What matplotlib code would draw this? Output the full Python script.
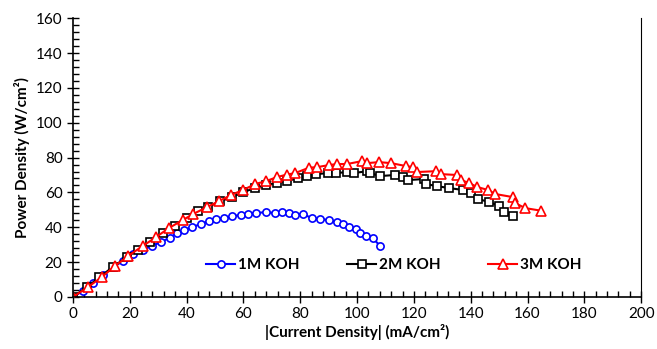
import numpy as np
import matplotlib.pyplot as plt
from matplotlib.ticker import MultipleLocator

plt.rcParams['font.family'] = ['Lato', 'DejaVu Sans']

# 1M KOH
x_1m = [0, 3.5, 7, 10.5, 14, 17.5, 21, 24.5, 28, 31, 34, 36.5, 39, 42, 45, 48, 50.5, 53,
        56, 59, 61.5, 64.5, 68, 71, 73.5, 76, 78, 81, 84, 87, 90, 93, 95, 97, 99.5, 101,
        103, 105.5, 108]
y_1m = [0, 3.5, 8, 12.5, 17, 20.5, 24.5, 27, 29.5, 31.5, 34, 36.5, 38.5, 40, 42, 43.5, 44.7,
        45.3, 46.4, 47, 47.6, 48.2, 48.7, 48.2, 48.7, 48.2, 47, 47.6, 45.3, 44.7, 44.2, 43,
        41.9, 40.1, 39, 36.7, 35, 33.8, 29.5]

# 2M KOH
x_2m = [0, 4.9, 9.3, 14, 19, 23, 27, 31.7, 36, 40, 44, 47.5, 51.8, 56, 60, 64, 68, 71.8,
        75.4, 79.2, 82.5, 85.6, 89.8, 92.6, 96.5, 98.9, 103.5, 104.6, 108.1, 113.4, 116.2,
        118, 123.6, 124.3, 128.2, 132.4, 137.3, 140.1, 142.6, 146.5, 150, 151.8, 155]
y_2m = [0, 5.7, 11.2, 17.2, 22.9, 27.2, 31.5, 36.7, 41, 45.3, 49.5, 51.6, 55, 57.3, 60.2,
        62.5, 64.2, 65.6, 66.3, 68.5, 69.4, 70.5, 71.1, 71.1, 71.7, 71.1, 72.2, 71.1, 69.4,
        70, 68.8, 67.1, 67.7, 64.8, 63.6, 62.5, 61.4, 59.6, 56.2, 54.5, 52.2, 48.7, 46.4]

# 3M KOH
x_3m = [0, 5.3, 10.2, 14.8, 19.4, 24.5, 29.3, 33.7, 38.7, 42.3, 47.2, 51.4, 55.6, 59.9,
        64.1, 68, 71.8, 75.2, 78.2, 83.1, 85.9, 90.1, 93, 96.5, 101.8, 103.5, 107.7, 112,
        117.3, 119.7, 121.1, 127.8, 129.6, 135.2, 136.6, 139.4, 142.3, 146.1, 148.6, 154.9,
        155.6, 159.2, 164.8]
y_3m = [0, 5.7, 11.5, 17.8, 23.5, 29.2, 34.4, 39.5, 44.2, 47.6, 51.6, 55, 58.5, 61.4, 64.8,
        66.5, 68.8, 70.2, 71.1, 74.2, 74.5, 75.7, 76.3, 76.3, 78, 76.8, 77.4, 76.8, 75.1,
        74.5, 71.7, 72.2, 70.5, 70, 67.1, 65.4, 63.1, 61.4, 59.1, 57.3, 53.9, 51, 49.5]

fig = plt.figure(figsize=(6.57, 3.49), dpi=100)
ax = fig.add_axes([0.111, 0.149, 0.865, 0.799])

ax.plot(x_1m, y_1m, color='#0000FF', marker='o', markersize=5.2, markerfacecolor='white',
        markeredgewidth=1.2, linewidth=1.5, label='1M KOH')
ax.plot(x_2m, y_2m, color='black', marker='s', markersize=5.2, markerfacecolor='white',
        markeredgewidth=1.2, linewidth=1.5, label='2M KOH')
ax.plot(x_3m, y_3m, color='#FF0000', marker='^', markersize=6.5, markerfacecolor='white',
        markeredgewidth=1.2, linewidth=1.5, label='3M KOH')

ax.set_xlim(0, 200)
ax.set_ylim(0, 160)
ax.xaxis.set_major_locator(MultipleLocator(20))
ax.xaxis.set_minor_locator(MultipleLocator(4))
ax.yaxis.set_major_locator(MultipleLocator(20))
ax.yaxis.set_minor_locator(MultipleLocator(4))
ax.tick_params(which='major', direction='inout', length=8, width=1, labelsize=11)
ax.tick_params(which='minor', direction='in', length=4, width=1)
ax.tick_params(axis='y', right=False)
ax.spines['top'].set_visible(False)
for s in ['left', 'bottom']:
    ax.spines[s].set_linewidth(1.2)
ax.spines['right'].set_linewidth(0.8)

ax.set_xlabel('|Current Density| (mA/cm²)', fontsize=11, fontweight='bold', labelpad=2)
ax.set_ylabel('Power Density (W/cm²)', fontsize=11, fontweight='bold', labelpad=4)

ax.legend(loc='center', bbox_to_anchor=(0.565, 0.115), ncol=3, frameon=False,
          prop={'weight': 'bold', 'size': 11}, handlelength=1.9, handletextpad=0.2,
          columnspacing=3.1)

fig.savefig('out.png', dpi=100)
